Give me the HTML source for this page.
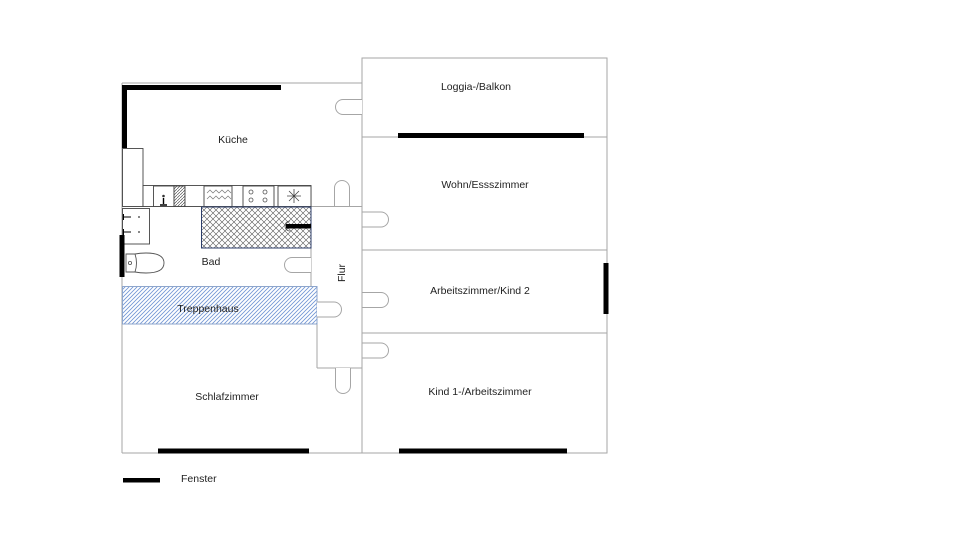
<!DOCTYPE html>
<html><head><meta charset="utf-8"><style>
html,body{margin:0;padding:0;background:#fff;}
svg{display:block;}
text{font-family:"Liberation Sans",sans-serif;font-size:10.5px;fill:#222;}
</style></head><body>
<svg width="960" height="540" viewBox="0 0 960 540" xmlns="http://www.w3.org/2000/svg">
<defs>
<pattern id="xh" width="6" height="6" patternUnits="userSpaceOnUse">
<rect width="6" height="6" fill="#fff"/>
<path d="M0,0 L6,6 M6,0 L0,6" stroke="#555" stroke-width="0.6"/>
</pattern>
<pattern id="bh" width="4" height="4" patternUnits="userSpaceOnUse">
<rect width="4" height="4" fill="#fff"/>
<path d="M-1,1 L1,-1 M0,4 L4,0 M3,5 L5,3" stroke="#6f94d4" stroke-width="0.8"/>
</pattern>
<pattern id="gh" width="3" height="3" patternUnits="userSpaceOnUse">
<rect width="3" height="3" fill="#fff"/>
<path d="M0,3 L3,0" stroke="#555" stroke-width="0.7"/>
</pattern>
</defs>

<g fill="none" stroke="#a6a6a6" stroke-width="1">
<line x1="122" y1="83" x2="362" y2="83"/>
<line x1="122" y1="83" x2="122" y2="453"/>
<line x1="122" y1="453" x2="362" y2="453"/>
<line x1="122" y1="206.5" x2="362" y2="206.5"/>
<line x1="311" y1="206" x2="311" y2="286"/>
<line x1="317" y1="286" x2="317" y2="368"/>
<line x1="317" y1="368" x2="362" y2="368"/>
<rect x="362" y="58" width="245" height="395"/>
<line x1="362" y1="137" x2="607" y2="137"/>
<line x1="362" y1="250" x2="607" y2="250"/>
<line x1="362" y1="333" x2="607" y2="333"/>
</g>

<rect x="122.5" y="286.5" width="194.5" height="37.5" fill="url(#bh)" stroke="#8ea6cc" stroke-width="1"/>

<g fill="#fff" stroke="#444" stroke-width="0.9">
<rect x="122.5" y="148.5" width="20.5" height="58"/>
<rect x="143" y="185.5" width="168" height="21"/>
<rect x="153.5" y="186" width="20.5" height="20.5"/>
<rect x="174" y="186" width="11" height="20.5" fill="url(#gh)"/>
<rect x="204" y="186" width="28" height="20.5"/>
<rect x="243" y="186" width="31" height="20.5"/>
<rect x="278" y="186" width="33" height="20.5"/>
</g>
<circle cx="163.5" cy="196" r="1.3" fill="#333"/>
<path d="M163.5,198 L163.5,204 M160,205 L167,205" stroke="#000" stroke-width="1.4"/>
<path d="M207,193 l3,-3 l3,3 l3,-3 l3,3 l3,-3 l3,3 l3,-3 l3,3 M207,199 l3,-3 l3,3 l3,-3 l3,3 l3,-3 l3,3 l3,-3 l3,3" fill="none" stroke="#777" stroke-width="0.7"/>
<g fill="none" stroke="#555" stroke-width="0.8">
<circle cx="251" cy="192" r="2"/><circle cx="265" cy="192" r="2"/>
<circle cx="251" cy="200" r="2"/><circle cx="265" cy="200" r="2"/>
</g>
<path d="M287,196 L301,196 M294,189 L294,203 M289,191 L299,201 M299,191 L289,201" stroke="#444" stroke-width="0.8"/>

<rect x="201.5" y="207" width="109.5" height="41" fill="url(#xh)" stroke="#2c3e6a" stroke-width="1"/>
<path d="M290,221 a5,5 0 0 0 0,10" fill="none" stroke="#555" stroke-width="0.8"/>
<rect x="286" y="224" width="25" height="4.5" fill="#000"/>

<rect x="122.5" y="208.5" width="27" height="35.5" fill="#fff" stroke="#444" stroke-width="0.9"/>
<path d="M123,217 L131,217 M123,232 L131,232 M123.5,214 L123.5,220 M123.5,229 L123.5,235" stroke="#000" stroke-width="1"/>
<circle cx="139" cy="217" r="0.9" fill="#333"/><circle cx="139" cy="232" r="0.9" fill="#333"/>
<path d="M126,254 L135,254 Q140,253 146,253 Q164,253 164,263 Q164,273 146,273 Q140,273 135,272 L126,272 Z" fill="#fff" stroke="#555" stroke-width="0.9"/>
<path d="M135,254 Q138,263 135,272" fill="none" stroke="#555" stroke-width="0.9"/>
<circle cx="130" cy="263" r="1.6" fill="none" stroke="#555" stroke-width="0.8"/>

<g fill="#fff" stroke="#a6a6a6" stroke-width="1">
<path d="M362,99.5 L343,99.5 A7.5,7.5 0 0 0 343,114.5 L362,114.5"/>
<path d="M334.5,206 L334.5,188 A7.5,7.5 0 0 1 349.5,188 L349.5,206"/>
<path d="M362,212 L381,212 A7.5,7.5 0 0 1 381,227 L362,227 Z"/>
<path d="M311,257.5 L292,257.5 A7.5,7.5 0 0 0 292,272.5 L311,272.5"/>
<path d="M317,302 L334,302 A7.5,7.5 0 0 1 334,317 L317,317"/>
<path d="M362,292.5 L381,292.5 A7.5,7.5 0 0 1 381,307.5 L362,307.5 Z"/>
<path d="M362,343 L381,343 A7.5,7.5 0 0 1 381,358 L362,358 Z"/>
<path d="M335.5,368 L335.5,386 A7.5,7.5 0 0 0 350.5,386 L350.5,368"/>
</g>

<g fill="#000">
<rect x="122" y="85" width="159" height="5"/>
<rect x="122" y="85" width="5" height="63"/>
<rect x="398" y="133" width="186" height="5"/>
<rect x="603.5" y="263" width="5" height="51"/>
<rect x="399" y="448.5" width="168" height="5"/>
<rect x="158" y="448.5" width="151" height="5"/>
<rect x="119.5" y="235" width="5" height="42"/>
<rect x="123" y="478" width="37" height="4.5"/>
</g>

<text x="233" y="143" text-anchor="middle">Küche</text>
<text x="476" y="90" text-anchor="middle">Loggia-/Balkon</text>
<text x="485" y="188" text-anchor="middle">Wohn/Essszimmer</text>
<text x="480" y="294" text-anchor="middle">Arbeitszimmer/Kind 2</text>
<text x="480" y="395" text-anchor="middle">Kind 1-/Arbeitszimmer</text>
<text x="227" y="400" text-anchor="middle">Schlafzimmer</text>
<text x="211" y="265" text-anchor="middle">Bad</text>
<text x="208" y="312" text-anchor="middle">Treppenhaus</text>
<text x="0" y="0" text-anchor="middle" transform="translate(345,273) rotate(-90)">Flur</text>
<text x="181" y="482">Fenster</text>
</svg>
</body></html>
